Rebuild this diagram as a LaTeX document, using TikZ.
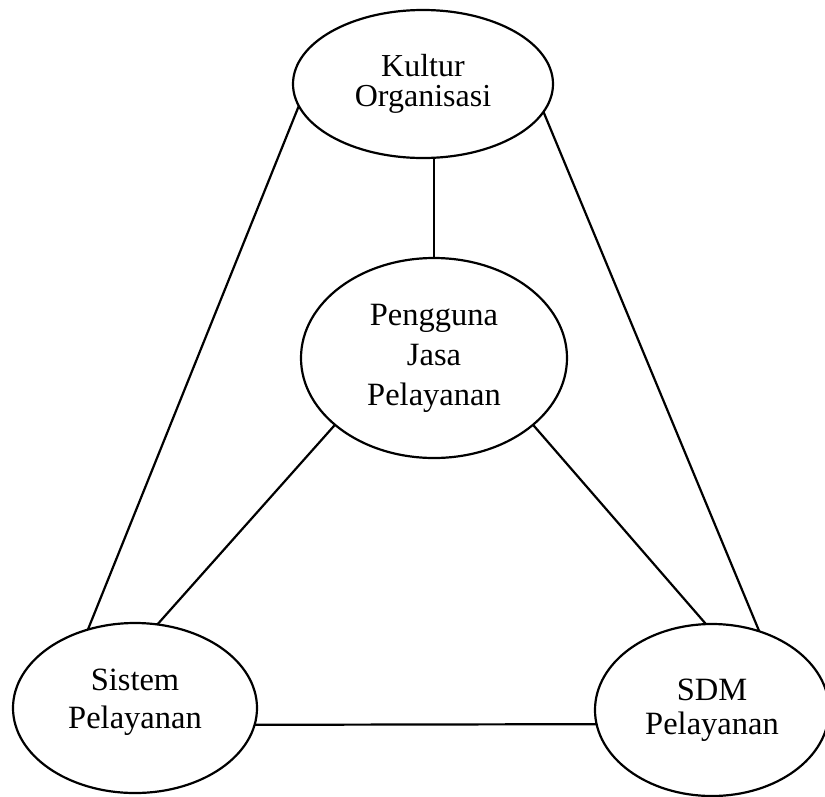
\documentclass[tikz,border=0pt]{standalone}
\usepackage{fontspec}
\setmainfont{Liberation Serif}
\usetikzlibrary{shapes.geometric}
\begin{document}
\begin{tikzpicture}[x=1pt,y=-1pt,
  oval/.style={draw=black, line width=2.2pt, ellipse, inner sep=0pt, outer sep=0pt, align=center},
  link/.style={draw=black, line width=2.2pt}]
\useasboundingbox[fill=white] (0,0) rectangle (825,796);
\node[oval, minimum width=260pt, minimum height=148pt, font=\fontsize{32}{30}\selectfont] (kultur) at (423,84) {Kultur\\Organisasi};
\node[oval, minimum width=266pt, minimum height=200pt, font=\fontsize{32.5}{40}\selectfont] (pengguna) at (434,358) {Pengguna\\Jasa\\Pelayanan};
\node[oval, minimum width=244pt, minimum height=170pt, font=\fontsize{32.5}{38}\selectfont] (sistem) at (135,708) {Sistem\\Pelayanan\rule[-18pt]{0pt}{0pt}};
\node[oval, minimum width=234pt, minimum height=172pt, font=\fontsize{32.5}{34}\selectfont] (sdm) at (712,710) {SDM\\Pelayanan};
\draw[link] (pengguna.north) -- (pengguna.north |- kultur.south);
\draw[link] (kultur.190.6) -- (sistem.121);
\draw[link] (kultur.347.3) -- (sdm.59);
\draw[link] (pengguna.214) -- (sistem.75.3);
\draw[link] (pengguna.326.9) -- (sdm.94.6);
\draw[link] (sistem.352) -- (sdm.187.3);
\end{tikzpicture}
\end{document}
